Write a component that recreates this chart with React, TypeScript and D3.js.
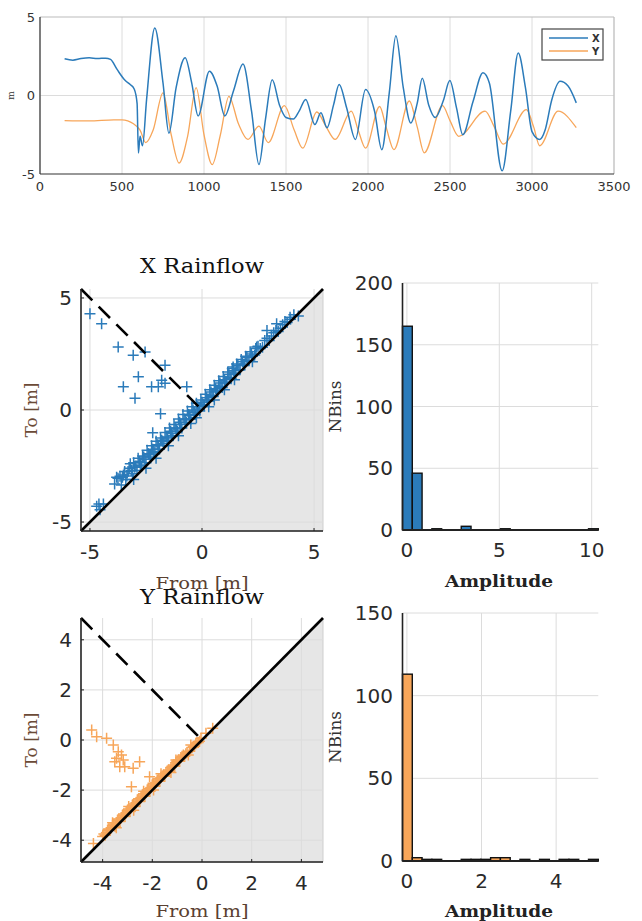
import React from "react"
import { scaleLinear, line, curveMonotoneX } from "d3"

const width = 642
const height = 921

// time history
const xTime = [150, 200, 250, 300, 350, 400, 430, 470, 520, 550, 575, 592, 600, 610, 625, 650, 700, 750, 786, 830, 885, 925, 964, 1033, 1080, 1127, 1180, 1238, 1290, 1335, 1375, 1416, 1460, 1500, 1545, 1580, 1620, 1676, 1713, 1750, 1790, 1824, 1870, 1923, 1985, 2040, 2084, 2130, 2170, 2215, 2261, 2300, 2331, 2370, 2410, 2460, 2499, 2540, 2578, 2640, 2701, 2740, 2818, 2870, 2916, 2960, 3000, 3047, 3080, 3120, 3171, 3220, 3270]
const xValues = [2.34, 2.25, 2.35, 2.4, 2.35, 2.38, 2.3, 1.66, 0.95, 0.7, 0.4, -0.5, -3.66, -2.6, -3.2, -0.25, 4.3, 0.8, -2.4, 0.5, 2.4, 0.8, -1.3, 1.55, 0.6, -1.3, 0.3, 2.0, -1.0, -4.4, -1.5, 1.0, -0.6, -1.4, -1.5, -1.0, -0.25, -1.85, -1.1, -2.06, -0.6, 0.7, -0.8, -2.8, 0.38, -1.0, -3.45, 0.2, 3.8, 0.5, -1.75, -0.5, 1.1, -0.6, -1.4, -0.3, 0.95, -0.8, -2.5, -0.4, 1.45, 0.8, -4.8, -1.0, 2.7, 0.5, -2.3, -2.8, -2.2, -0.3, 0.9, 0.6, -0.47]
const yTime = [150, 300, 450, 500, 570, 610, 645, 690, 750, 800, 848, 900, 952, 1000, 1050, 1100, 1152, 1210, 1268, 1335, 1392, 1490, 1550, 1602, 1688, 1740, 1800, 1898, 1940, 1985, 2071, 2110, 2158, 2252, 2300, 2343, 2454, 2500, 2553, 2714, 2770, 2825, 2966, 3010, 3047, 3159, 3270]
const yValues = [-1.6, -1.62, -1.55, -1.55, -1.8, -2.2, -3.0, -2.2, 0.17, -2.5, -4.3, -2.6, 0.5, -2.5, -4.4, -2.5, -0.05, -1.8, -2.8, -1.95, -3.0, -0.65, -2.2, -3.35, -1.05, -1.9, -2.8, -1.0, -2.2, -3.35, -0.7, -2.0, -3.45, -0.35, -2.0, -3.65, -0.65, -1.6, -2.6, -1.0, -2.0, -3.1, -0.9, -2.0, -3.2, -1.0, -2.05]
const timeTicks = [0, 500, 1000, 1500, 2000, 2500, 3000, 3500]
const posTicks = [-5, 0, 5]

// rainflow cycles [from, to]
const xCycles = [
  [-5.0, 4.3], [-4.48, 3.85], [-3.74, 2.81], [-3.07, 2.44], [-2.54, 2.59], [-1.65, 2.0], [-1.8, 1.33],
  [-2.84, 1.48], [-3.51, 1.04], [-2.25, 1.04], [-1.95, 1.04], [-1.65, 1.19], [-0.68, 1.04], [-2.99, 0.52],
  [-1.85, -0.17], [-2.2, -1.02], [-3.66, -2.96], [-3.81, -3.0], [-4.7, -4.3], [-4.6, -4.2], [-4.55, -4.45],
  [-4.4, -4.2], [-3.9, -3.3], [-3.75, -3.05], [-3.6, -3.35], [-3.5, -2.9], [-3.4, -3.1], [-3.3, -2.75],
  [-3.2, -2.4], [-3.1, -2.85], [-3.0, -2.55], [-2.9, -2.7], [-2.8, -2.3], [-2.7, -2.5], [-2.6, -2.1],
  [-2.5, -2.35], [-2.4, -1.95], [-2.3, -2.1], [-2.2, -1.75], [-2.1, -1.9], [-2.0, -1.55], [-1.9, -1.75],
  [-1.8, -1.35], [-1.7, -1.5], [-1.6, -1.2], [-1.5, -1.35], [-1.4, -0.95], [-1.3, -1.15], [-1.2, -0.8],
  [-1.1, -0.95], [-1.0, -0.55], [-0.9, -0.8], [-0.8, -0.4], [-0.7, -0.55], [-0.6, -0.2], [-0.5, -0.4],
  [-0.4, 0.0], [-0.3, -0.2], [-0.2, 0.15], [-0.1, -0.05], [0.0, 0.35], [0.1, 0.2], [0.2, 0.55], [0.3, 0.4],
  [0.4, 0.8], [0.5, 0.6], [0.6, 0.95], [0.7, 0.85], [0.8, 1.2], [0.9, 1.0], [1.0, 1.35], [1.1, 1.25],
  [1.2, 1.6], [1.3, 1.4], [1.4, 1.75], [1.5, 1.65], [1.6, 2.0], [1.7, 1.8], [1.8, 2.15], [1.9, 2.05],
  [2.0, 2.35], [2.1, 2.2], [2.2, 2.5], [2.35, 2.45], [2.5, 2.85], [2.7, 2.8], [2.9, 3.2], [3.0, 3.1],
  [3.2, 3.45], [3.4, 3.5], [3.6, 3.8], [3.8, 3.9], [4.1, 4.25], [4.3, 4.2], [2.9, 3.55], [3.33, 3.85],
  [3.93, 4.14], [-0.5, -0.6], [0.3, 0.15], [1.0, 0.9], [-1.5, -1.6], [-2.5, -2.6], [1.39, 1.92], [2.44, 2.81],
  [-3.55, -3.0], [-3.45, -2.75], [-3.35, -2.95], [-3.25, -2.6], [-3.15, -2.7], [-3.05, -2.35], [-2.95, -2.5],
  [-2.85, -2.15], [-2.75, -2.45], [-2.65, -2.05], [-2.55, -2.2], [-2.45, -1.8], [-2.35, -2.0], [-2.25, -1.6],
  [-2.15, -1.85], [-2.05, -1.4], [-1.95, -1.6], [-1.85, -1.25], [-1.75, -1.4], [-1.65, -1.0], [-1.55, -1.25],
  [-1.45, -0.8], [-1.35, -1.05], [-1.25, -0.65], [-1.15, -0.85], [-1.05, -0.4], [-0.95, -0.65], [-0.85, -0.2],
  [-0.75, -0.45], [-0.65, -0.05], [-0.55, -0.25], [-0.45, 0.15], [-0.35, -0.1], [-0.25, 0.3], [-0.15, 0.05],
  [-0.05, 0.45], [0.05, 0.25], [0.15, 0.7], [0.25, 0.45], [0.35, 0.9], [0.45, 0.65], [0.55, 1.1], [0.65, 0.85],
  [0.75, 1.3], [0.85, 1.05], [0.95, 1.5], [1.05, 1.2], [1.15, 1.7], [1.25, 1.45], [1.35, 1.85], [1.45, 1.6],
  [1.55, 2.05], [1.65, 1.8], [1.75, 2.25], [1.85, 2.0], [1.95, 2.4], [2.05, 2.2], [2.15, 2.6], [2.25, 2.4],
  [2.4, 2.75], [2.6, 2.75], [2.8, 3.1], [3.1, 3.3], [3.3, 3.55], [3.5, 3.65], [3.7, 3.95], [3.95, 4.05],
  [-0.25, -0.35], [0.55, 0.45], [1.45, 1.35], [2.25, 2.15], [-1.05, -1.15], [-2.05, -2.15], [-3.05, -3.1],
]
const yCycles = [
  [-4.44, 0.4], [-4.24, 0.13], [-3.84, 0.07], [-3.57, -0.2], [-3.37, -0.47], [-3.24, -0.6], [-3.44, -0.73],
  [-3.17, -0.8], [-3.51, -0.87], [-3.11, -1.07], [-2.77, -1.13], [-2.51, -0.87], [-3.31, -1.07], [-2.11, -1.47],
  [-1.97, -1.73], [-2.84, -1.87], [-4.37, -4.13], [0.16, 0.27], [-0.04, 0.07], [0.43, 0.47],
  [-4.0, -3.85], [-3.9, -3.8], [-3.8, -3.6], [-3.7, -3.6], [-3.6, -3.4], [-3.5, -3.45], [-3.4, -3.2],
  [-3.3, -3.25], [-3.2, -3.0], [-3.1, -3.05], [-3.0, -2.8], [-2.9, -2.85], [-2.8, -2.6], [-2.7, -2.65],
  [-2.6, -2.4], [-2.5, -2.45], [-2.4, -2.2], [-2.3, -2.25], [-2.2, -2.0], [-2.1, -2.05], [-2.0, -1.8],
  [-1.9, -1.85], [-1.8, -1.6], [-1.7, -1.65], [-1.6, -1.45], [-1.5, -1.45], [-1.4, -1.25], [-1.3, -1.25],
  [-1.2, -1.05], [-1.1, -1.05], [-1.0, -0.85], [-0.9, -0.85], [-0.8, -0.65], [-0.7, -0.65], [-0.6, -0.5],
  [-0.5, -0.45], [-0.4, -0.3], [-0.3, -0.25], [-0.2, -0.1], [-0.1, -0.05], [-3.45, -3.5], [-2.75, -2.8],
  [-1.95, -2.0], [-1.25, -1.3], [-0.55, -0.6], [-3.6, -3.3], [-2.95, -2.65], [-2.35, -2.05], [-1.65, -1.35],
  [-1.05, -0.8], [-0.45, -0.2],
  [-3.95, -3.75], [-3.85, -3.7], [-3.75, -3.55], [-3.65, -3.5], [-3.55, -3.35], [-3.45, -3.3], [-3.35, -3.15],
  [-3.25, -3.1], [-3.15, -2.95], [-3.05, -2.9], [-2.95, -2.75], [-2.85, -2.7], [-2.75, -2.55], [-2.65, -2.5],
  [-2.55, -2.35], [-2.45, -2.3], [-2.35, -2.15], [-2.25, -2.1], [-2.15, -1.95], [-2.05, -1.9], [-1.95, -1.75],
  [-1.85, -1.7], [-1.75, -1.55], [-1.65, -1.5], [-1.55, -1.4], [-1.45, -1.3], [-1.35, -1.2], [-1.25, -1.1],
  [-1.15, -1.0], [-1.05, -0.9], [-0.95, -0.8], [-0.85, -0.7], [-0.75, -0.6], [-0.65, -0.55], [-0.35, -0.25],
  [-0.25, -0.15], [-0.15, -0.1],
]
const xRainTicks = [-5, 0, 5]
const yRainTicks = [-4, -2, 0, 2, 4]

// amplitude histograms, 20 bins each
const xHistCounts = [165, 46, 0, 1, 0, 0, 3, 0, 0, 0, 1, 0, 0, 0, 0, 0, 0, 0, 0, 1]
const yHistCounts = [113, 2, 1, 1, 0, 0, 1, 1, 1, 2, 2, 0, 1, 0, 1, 0, 1, 1, 0, 1]
const xHistRange = [-0.238, 10.357]
const yHistRange = [-0.118, 5.13]
const xHistTicks = [0, 5, 10]
const yHistTicks = [0, 2, 4]
const xCountTicks = [0, 50, 100, 150, 200]
const yCountTicks = [0, 50, 100, 150]

const blue = "#2b7bba"
const orange = "#f7a65a"
const grid = "#dcdcdc"
const tickFont = "DejaVu Sans"
const serif = "DejaVu Serif"

function TimePlot() {
  const box = { left: 40, right: 614, top: 17, bottom: 174 }
  const x = scaleLinear().domain([0, 3500]).range([box.left, box.right])
  const y = scaleLinear().domain([-5, 5]).range([box.bottom, box.top])
  const xPath = line<number>().x(d => x(d)).y((d, i) => y(xValues[i])).curve(curveMonotoneX)(xTime)
  const yPath = line<number>().x(d => x(d)).y((d, i) => y(yValues[i])).curve(curveMonotoneX)(yTime)
  return (
    <g>
      {timeTicks.map(t => (
        <line key={t} x1={x(t)} x2={x(t)} y1={box.top} y2={box.bottom} stroke={grid} strokeWidth={1} />
      ))}
      <line x1={box.left} x2={box.right} y1={y(0)} y2={y(0)} stroke={grid} />
      <line x1={box.left} x2={box.right} y1={box.top} y2={box.top} stroke="#bbb" />
      <line x1={box.right} x2={box.right} y1={box.top} y2={box.bottom} stroke="#bbb" />
      <path d={yPath} fill="none" stroke={orange} strokeWidth={1.3} />
      <path d={xPath} fill="none" stroke={blue} strokeWidth={1.5} />
      <line x1={box.left} x2={box.left} y1={box.top} y2={box.bottom} stroke="#333" strokeWidth={1.2} />
      <line x1={box.left} x2={box.right} y1={box.bottom} y2={box.bottom} stroke="#333" strokeWidth={1.2} />
      {timeTicks.map(t => (
        <text key={t} x={x(t)} y={186} dy="0.35em" textAnchor="middle" fontFamily={tickFont} fontSize={13} fill="#333">{t}</text>
      ))}
      {posTicks.map(t => (
        <text key={t} x={35} y={y(t)} dy="0.35em" textAnchor="end" fontFamily={tickFont} fontSize={13} fill="#333">{t}</text>
      ))}
      <text transform={`translate(14, ${y(0)}) rotate(-90)`} textAnchor="middle" fontFamily={serif} fontSize={9} fill="#333">m</text>
      <rect x={542} y={29} width={61} height={31} fill="white" stroke="#444" strokeWidth={1.2} />
      <line x1={549} x2={588} y1={38} y2={38} stroke={blue} strokeWidth={1.4} />
      <line x1={549} x2={588} y1={51} y2={51} stroke={orange} strokeWidth={1.4} />
      <text x={592} y={38} dy="0.35em" fontFamily={tickFont} fontWeight="bold" fontSize={10} fill="#333">X</text>
      <text x={592} y={51} dy="0.35em" fontFamily={tickFont} fontWeight="bold" fontSize={10} fill="#333">Y</text>
    </g>
  )
}

function Rainflow({ cycles, lim, ticks, color, title, box, titleY, xLabelY }) {
  const x = scaleLinear().domain([-lim, lim]).range([box.left, box.right])
  const y = scaleLinear().domain([-lim, lim]).range([box.bottom, box.top])
  const midX = (box.left + box.right) / 2
  const midY = (box.top + box.bottom) / 2
  return (
    <g>
      <path d={`M${x(-lim)},${y(-lim)}L${x(lim)},${y(lim)}L${x(lim)},${y(-lim)}Z`} fill="#e6e6e6" stroke="#cfcfcf" />
      {ticks.map(t => (
        <g key={t}>
          <line x1={x(t)} x2={x(t)} y1={box.top} y2={box.bottom} stroke={grid} />
          <line x1={box.left} x2={box.right} y1={y(t)} y2={y(t)} stroke={grid} />
        </g>
      ))}
      {cycles.map(([f, t], i) => (
        <path key={i} d="M-5.5,0H5.5M0,-5.5V5.5" transform={`translate(${x(f)}, ${y(t)})`} stroke={color} strokeWidth={1.5} fill="none" />
      ))}
      <line x1={x(-lim)} y1={y(-lim)} x2={x(lim)} y2={y(lim)} stroke="black" strokeWidth={2.6} />
      <line x1={x(-lim)} y1={y(lim)} x2={x(0)} y2={y(0)} stroke="black" strokeWidth={2.6} strokeDasharray="16 9" />
      <line x1={box.left} x2={box.left} y1={box.top} y2={box.bottom} stroke="#222" strokeWidth={1.6} />
      <line x1={box.left} x2={box.right} y1={box.bottom} y2={box.bottom} stroke="#222" strokeWidth={1.6} />
      {ticks.map(t => (
        <g key={t}>
          <line x1={x(t)} x2={x(t)} y1={box.bottom} y2={box.bottom - 3} stroke="#222" />
          <line x1={box.left} x2={box.left + 3} y1={y(t)} y2={y(t)} stroke="#222" />
          <text x={x(t)} y={box.bottom + 21} dy="0.35em" textAnchor="middle" fontFamily={tickFont} fontSize={20} fill="#2a2a2a">{t}</text>
          <text x={72} y={y(t)} dy="0.35em" textAnchor="end" fontFamily={tickFont} fontSize={20} fill="#2a2a2a">{t}</text>
        </g>
      ))}
      <text x={midX} y={titleY} dy="0.35em" textAnchor="middle" fontFamily={serif} fontSize={20} textLength={124} lengthAdjust="spacingAndGlyphs" fill="#111">{title}</text>
      <text x={midX} y={xLabelY} dy="0.35em" textAnchor="middle" fontFamily={serif} fontSize={17} textLength={93} lengthAdjust="spacingAndGlyphs" fill="#5a4030">From [m]</text>
      <text transform={`translate(31, ${midY}) rotate(-90)`} dy="0.35em" textAnchor="middle" fontFamily={serif} fontSize={17} textLength={55} lengthAdjust="spacingAndGlyphs" fill="#6b4a36">To [m]</text>
    </g>
  )
}

function Histogram({ counts, range, ticks, countTicks, color, box, xLabelY }) {
  const x = scaleLinear().domain(range).range([box.left, box.right])
  const y = scaleLinear().domain([0, countTicks[countTicks.length - 1]]).range([box.bottom, box.top])
  const bw = (range[1] - range[0]) / counts.length
  const midY = (box.top + box.bottom) / 2
  return (
    <g>
      {ticks.map(t => (
        <line key={t} x1={x(t)} x2={x(t)} y1={box.top} y2={box.bottom} stroke={grid} />
      ))}
      {countTicks.map(t => (
        <line key={t} x1={box.left} x2={box.right} y1={y(t)} y2={y(t)} stroke={grid} />
      ))}
      {counts.map((c, i) => (
        <rect key={i} x={x(range[0] + i * bw)} width={x(range[0] + (i + 1) * bw) - x(range[0] + i * bw)}
          y={y(c)} height={y(0) - y(c)} fill={color} stroke="#111" strokeWidth={1.4} />
      ))}
      <line x1={box.left} x2={box.left} y1={box.top} y2={box.bottom} stroke="#222" strokeWidth={1.6} />
      <line x1={box.left} x2={box.right} y1={box.bottom} y2={box.bottom} stroke="#222" strokeWidth={2} />
      {ticks.map(t => (
        <text key={t} x={x(t)} y={box.bottom + 20} dy="0.35em" textAnchor="middle" fontFamily={tickFont} fontSize={20} fill="#2a2a2a">{t}</text>
      ))}
      {countTicks.map(t => (
        <text key={t} x={393} y={y(t)} dy="0.35em" textAnchor="end" fontFamily={tickFont} fontSize={20} fill="#2a2a2a">{t}</text>
      ))}
      <text x={499} y={xLabelY} dy="0.35em" textAnchor="middle" fontFamily={serif} fontWeight="bold" fontSize={17} textLength={108} lengthAdjust="spacingAndGlyphs" fill="#222">Amplitude</text>
      <text transform={`translate(335, ${midY}) rotate(-90)`} dy="0.35em" textAnchor="middle" fontFamily={serif} fontSize={16} textLength={52} lengthAdjust="spacingAndGlyphs" fill="#333">NBins</text>
    </g>
  )
}

function App() {
  return (
    <svg width={width} height={height} style={{ position: "absolute", left: 0, top: 0, background: "white" }}>
      <TimePlot />
      <Rainflow cycles={xCycles} lim={5.4} ticks={xRainTicks} color={blue} title="X Rainflow"
        box={{ left: 81, right: 323, top: 289, bottom: 531 }} titleY={266} xLabelY={583} />
      <Histogram counts={xHistCounts} range={xHistRange} ticks={xHistTicks} countTicks={xCountTicks} color={blue}
        box={{ left: 402.5, right: 598.3, top: 283, bottom: 530 }} xLabelY={581} />
      <Rainflow cycles={yCycles} lim={4.87} ticks={yRainTicks} color={orange} title="Y Rainflow"
        box={{ left: 81, right: 323, top: 618, bottom: 862 }} titleY={597} xLabelY={911} />
      <Histogram counts={yHistCounts} range={yHistRange} ticks={yHistTicks} countTicks={yCountTicks} color={orange}
        box={{ left: 402.5, right: 598.3, top: 613, bottom: 861 }} xLabelY={911} />
    </svg>
  )
}

export default App
